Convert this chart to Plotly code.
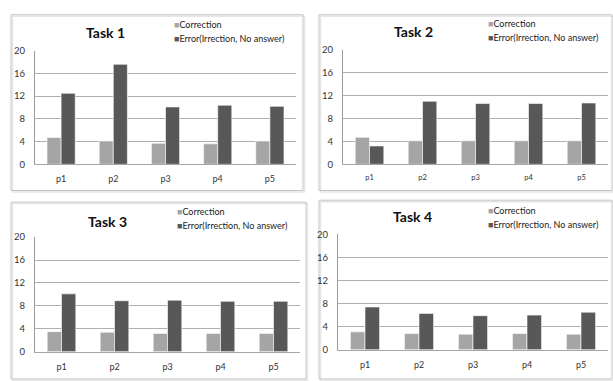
import plotly.graph_objects as go

W, H = 613, 381

categories = ["p1", "p2", "p3", "p4", "p5"]
tasks = ["Task 1", "Task 2", "Task 3", "Task 4"]
series_names = ["Correction", "Error(Irrection, No answer)"]

correction = [
    [4.7, 4.1, 3.7, 3.6, 4.1],
    [4.7, 4.1, 4.1, 4.1, 4.1],
    [3.5, 3.4, 3.2, 3.2, 3.2],
    [3.1, 2.8, 2.7, 2.8, 2.7],
]
error = [
    [12.5, 17.6, 10.1, 10.4, 10.2],
    [3.2, 11.0, 10.6, 10.6, 10.7],
    [10.1, 8.9, 9.0, 8.8, 8.8],
    [7.4, 6.3, 5.9, 6.0, 6.5],
]
y_ticks = [0, 4, 8, 12, 16, 20]

COL_CORR = "#a5a5a5"
COL_ERR = "#585858"
FONT = "Lato"

# pixel layout of each panel: frame box, plot box, title centre, legend anchor
panels = [
    dict(frame=(11, 9, 303, 190), plot=(35, 46, 296, 163), title=(105, 27), legend=(172, 19), xfs=9),
    dict(frame=(319, 9, 612, 190), plot=(343, 45, 608, 163), title=(413, 26), legend=(486, 18), xfs=7.5),
    dict(frame=(11, 202, 306, 384), plot=(35, 238, 300, 356), title=(107, 222), legend=(175, 212), xfs=9),
    dict(frame=(319, 200, 612, 384), plot=(338, 235, 608, 354), title=(412, 217), legend=(486, 211), xfs=9),
]


def px(x):
    return x / W


def py(y):
    return 1 - y / H


fig = go.Figure()
shapes = []
annotations = []

for i, p in enumerate(panels):
    n = "" if i == 0 else str(i + 1)
    xa, ya = "x" + n, "y" + n
    fig.add_trace(go.Bar(x=categories, y=correction[i], name=series_names[0],
                         marker=dict(color=COL_CORR, line=dict(color="white", width=0.6)),
                         xaxis=xa, yaxis=ya, showlegend=False))
    fig.add_trace(go.Bar(x=categories, y=error[i], name=series_names[1],
                         marker=dict(color=COL_ERR, line=dict(color="white", width=0.6)),
                         xaxis=xa, yaxis=ya, showlegend=False))

    x0, y0, x1, y1 = p["plot"]
    fig.update_layout(**{
        "xaxis" + n: dict(domain=[px(x0), px(x1)], anchor=ya, showgrid=False,
                          showline=True, linecolor="#a6a6a6", linewidth=1,
                          ticks="", tickfont=dict(family=FONT, size=p["xfs"], color="#333333"),
                          ticklabelstandoff=6, fixedrange=True),
        "yaxis" + n: dict(domain=[py(y1), py(y0)], anchor=xa, range=[0, 20],
                          tickvals=y_ticks, showgrid=True, gridcolor="#b0b0b0", gridwidth=1,
                          showline=True, linecolor="#9a9a9a", linewidth=1, zeroline=False,
                          ticks="", tickfont=dict(family=FONT, size=9.5, color="#333333"),
                          ticklabelstandoff=7, fixedrange=True),
    })

    fx0, fy0, fx1, fy1 = p["frame"]
    shapes.append(dict(type="rect", xref="paper", yref="paper",
                       x0=px(fx0 + 1.5), x1=px(fx1 + 1.5), y0=py(fy0 + 1.5), y1=py(fy1 + 1.5),
                       line=dict(color="#e6e6e6", width=1.5), layer="below"))
    shapes.append(dict(type="rect", xref="paper", yref="paper",
                       x0=px(fx0), x1=px(fx1), y0=py(fy0), y1=py(fy1),
                       line=dict(color="#c4c4c4", width=1), layer="below"))

    tx, ty = p["title"]
    annotations.append(dict(text="<b>%s</b>" % tasks[i], xref="paper", yref="paper",
                            x=px(tx), y=py(ty), xanchor="center", yanchor="middle",
                            showarrow=False, font=dict(family=FONT, size=14, color="#111111")))

    lx, ly = p["legend"]
    for k, (name, col) in enumerate(zip(series_names, [COL_CORR, COL_ERR])):
        annotations.append(dict(
            text='<span style="color:%s">■</span>%s' % (col, name),
            xref="paper", yref="paper", x=px(lx), y=py(ly + 14 * k),
            xanchor="left", yanchor="middle", showarrow=False,
            font=dict(family=FONT, size=9, color="#222222")))

fig.update_layout(
    width=W, height=H,
    margin=dict(l=0, r=0, t=0, b=0),
    paper_bgcolor="white", plot_bgcolor="white",
    barmode="group", bargap=0.46, bargroupgap=0.0,
    shapes=shapes, annotations=annotations,
)

fig.write_html("out.html", config={"displayModeBar": False})
